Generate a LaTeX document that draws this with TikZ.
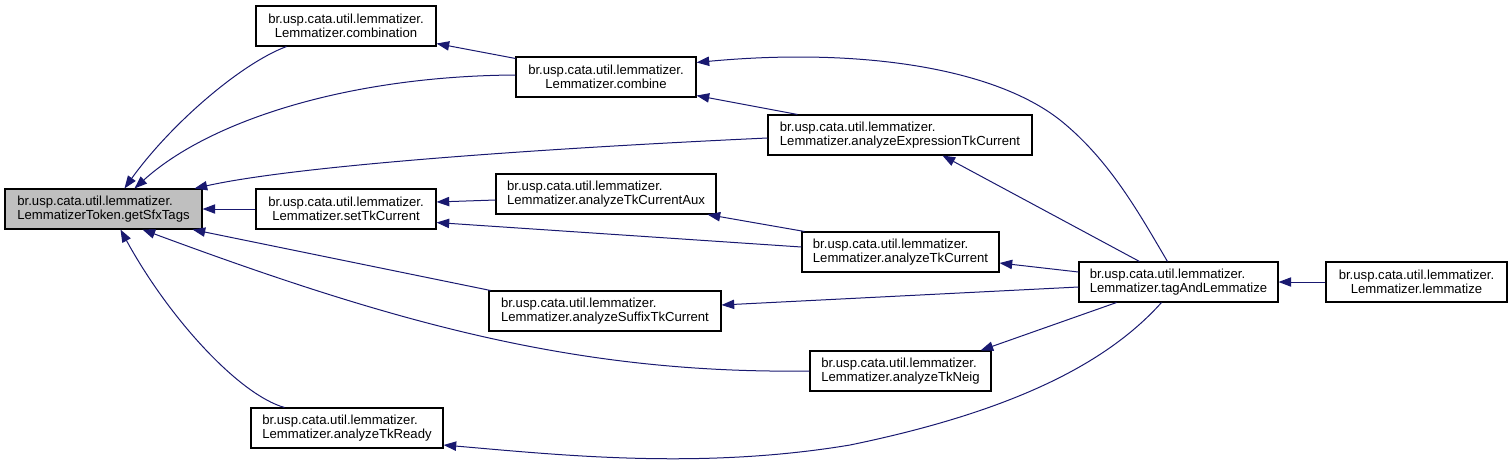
\documentclass[tikz,border=0pt]{standalone}
\usepackage{fontspec}
\setmainfont{Liberation Sans}
\usetikzlibrary{arrows.meta,calc}
\definecolor{edgec}{HTML}{191970}
\definecolor{hl}{HTML}{BFBFBF}
\begin{document}
\begin{tikzpicture}[x=0.75pt,y=-0.75pt,
  box/.style={draw=black, line width=0.8pt, fill=white, minimum height=30pt, inner sep=2pt,
    font=\fontsize{9.85pt}{10.5pt}\selectfont, align=left},
  cbox/.style={box, align=center},
  call/.style={draw=edgec, line width=0.75pt, -{Triangle[length=9.5pt,width=7pt]}}]
\path[use as bounding box] (0,0) rectangle (1512,465);

% nodes
\node[box, fill=hl, minimum width=147.75pt] (getSfxTags) at (103.5,209) {br.usp.cata.util.lemmatizer.\\LemmatizerToken.getSfxTags};
\node[cbox, minimum width=135pt] (combination) at (346,26) {br.usp.cata.util.lemmatizer.\\Lemmatizer.combination};
\node[cbox, minimum width=135pt] (setTkCurrent) at (346,209) {br.usp.cata.util.lemmatizer.\\Lemmatizer.setTkCurrent};
\node[box, minimum width=144pt] (analyzeTkReady) at (347,428) {br.usp.cata.util.lemmatizer.\\Lemmatizer.analyzeTkReady};
\node[cbox, minimum width=135pt] (combine) at (606,77) {br.usp.cata.util.lemmatizer.\\Lemmatizer.combine};
\node[box, minimum width=165pt] (analyzeTkCurrentAux) at (606,194) {br.usp.cata.util.lemmatizer.\\Lemmatizer.analyzeTkCurrentAux};
\node[box, minimum width=174pt] (analyzeSuffixTkCurrent) at (605,311) {br.usp.cata.util.lemmatizer.\\Lemmatizer.analyzeSuffixTkCurrent};
\node[box, minimum width=198pt] (analyzeExpressionTkCurrent) at (900,135) {br.usp.cata.util.lemmatizer.\\Lemmatizer.analyzeExpressionTkCurrent};
\node[box, minimum width=147.75pt] (analyzeTkCurrent) at (900.5,252) {br.usp.cata.util.lemmatizer.\\Lemmatizer.analyzeTkCurrent};
\node[box, minimum width=135.75pt] (analyzeTkNeig) at (900.5,371) {br.usp.cata.util.lemmatizer.\\Lemmatizer.analyzeTkNeig};
\node[box, minimum width=149.25pt] (tagAndLemmatize) at (1178.5,282) {br.usp.cata.util.lemmatizer.\\Lemmatizer.tagAndLemmatize};
\node[cbox, minimum width=135.75pt] (lemmatize) at (1416.5,282) {br.usp.cata.util.lemmatizer.\\Lemmatizer.lemmatize};

% connectors into getSfxTags
\draw[call] ($(combination.south west)+(31,0)$) .. controls (240,64) and (170,125) .. ($(getSfxTags.north west)+(120,0)$);
\draw[call] ($(combine.west)+(0,-2)$) .. controls (350,76) and (210,120) .. ($(getSfxTags.north west)+(130,0)$);
\draw[call] ($(analyzeExpressionTkCurrent.west)+(0,3)$) .. controls (550,148) and (300,165) .. ($(getSfxTags.north east)+(-8,0)$);
\draw[call] (setTkCurrent.west) -- (getSfxTags.east);
\draw[call] ($(analyzeSuffixTkCurrent.north west)+(2,0)$) -- ($(getSfxTags.south east)+(-10,0)$);
\draw[call] (analyzeTkNeig.west) .. controls (580,374) and (400,325) .. ($(getSfxTags.south west)+(138,0)$);
\draw[call] ($(analyzeTkReady.north west)+(34,0)$) .. controls (240,395) and (170,320) .. ($(getSfxTags.south west)+(116,0)$);

% other connectors
\draw[call] ($(combine.north west)+(0,2)$) -- ($(combination.south east)+(0,-3)$);
\draw[call] ($(analyzeTkCurrentAux.west)+(0,6)$) -- ($(setTkCurrent.east)+(0,-7)$);
\draw[call] ($(analyzeTkCurrent.west)+(0,-5)$) -- ($(setTkCurrent.south east)+(0,-7)$);
\draw[call] ($(analyzeTkCurrent.north west)+(3,0)$) -- ($(analyzeTkCurrentAux.south east)+(-9,0)$);
\draw[call] ($(tagAndLemmatize.north west)+(89,0)$) .. controls (1140,215) and (1110,160) .. (1060,120)
   .. controls (990,65) and (850,48) .. ($(combine.north east)+(0,6)$);
\draw[call] ($(analyzeExpressionTkCurrent.north west)+(30,0)$) -- ($(combine.south east)+(0,-2)$);
\draw[call] ($(tagAndLemmatize.north west)+(61,0)$) -- ($(analyzeExpressionTkCurrent.south west)+(175,0)$);
\draw[call] ($(tagAndLemmatize.west)+(0,-10)$) -- ($(analyzeTkCurrent.east)+(0,11)$);
\draw[call] ($(tagAndLemmatize.west)+(0,5)$) -- ($(analyzeSuffixTkCurrent.east)+(0,-6)$);
\draw[call] ($(tagAndLemmatize.south west)+(38,0)$) -- ($(analyzeTkNeig.north east)+(-11,0)$);
\draw[call] ($(tagAndLemmatize.south west)+(83,0)$) .. controls (1110,360) and (1020,410) .. (850,445)
   .. controls (700,470) and (560,455) .. ($(analyzeTkReady.east)+(0,17)$);
\draw[call] (lemmatize.west) -- (tagAndLemmatize.east);
\end{tikzpicture}
\end{document}
